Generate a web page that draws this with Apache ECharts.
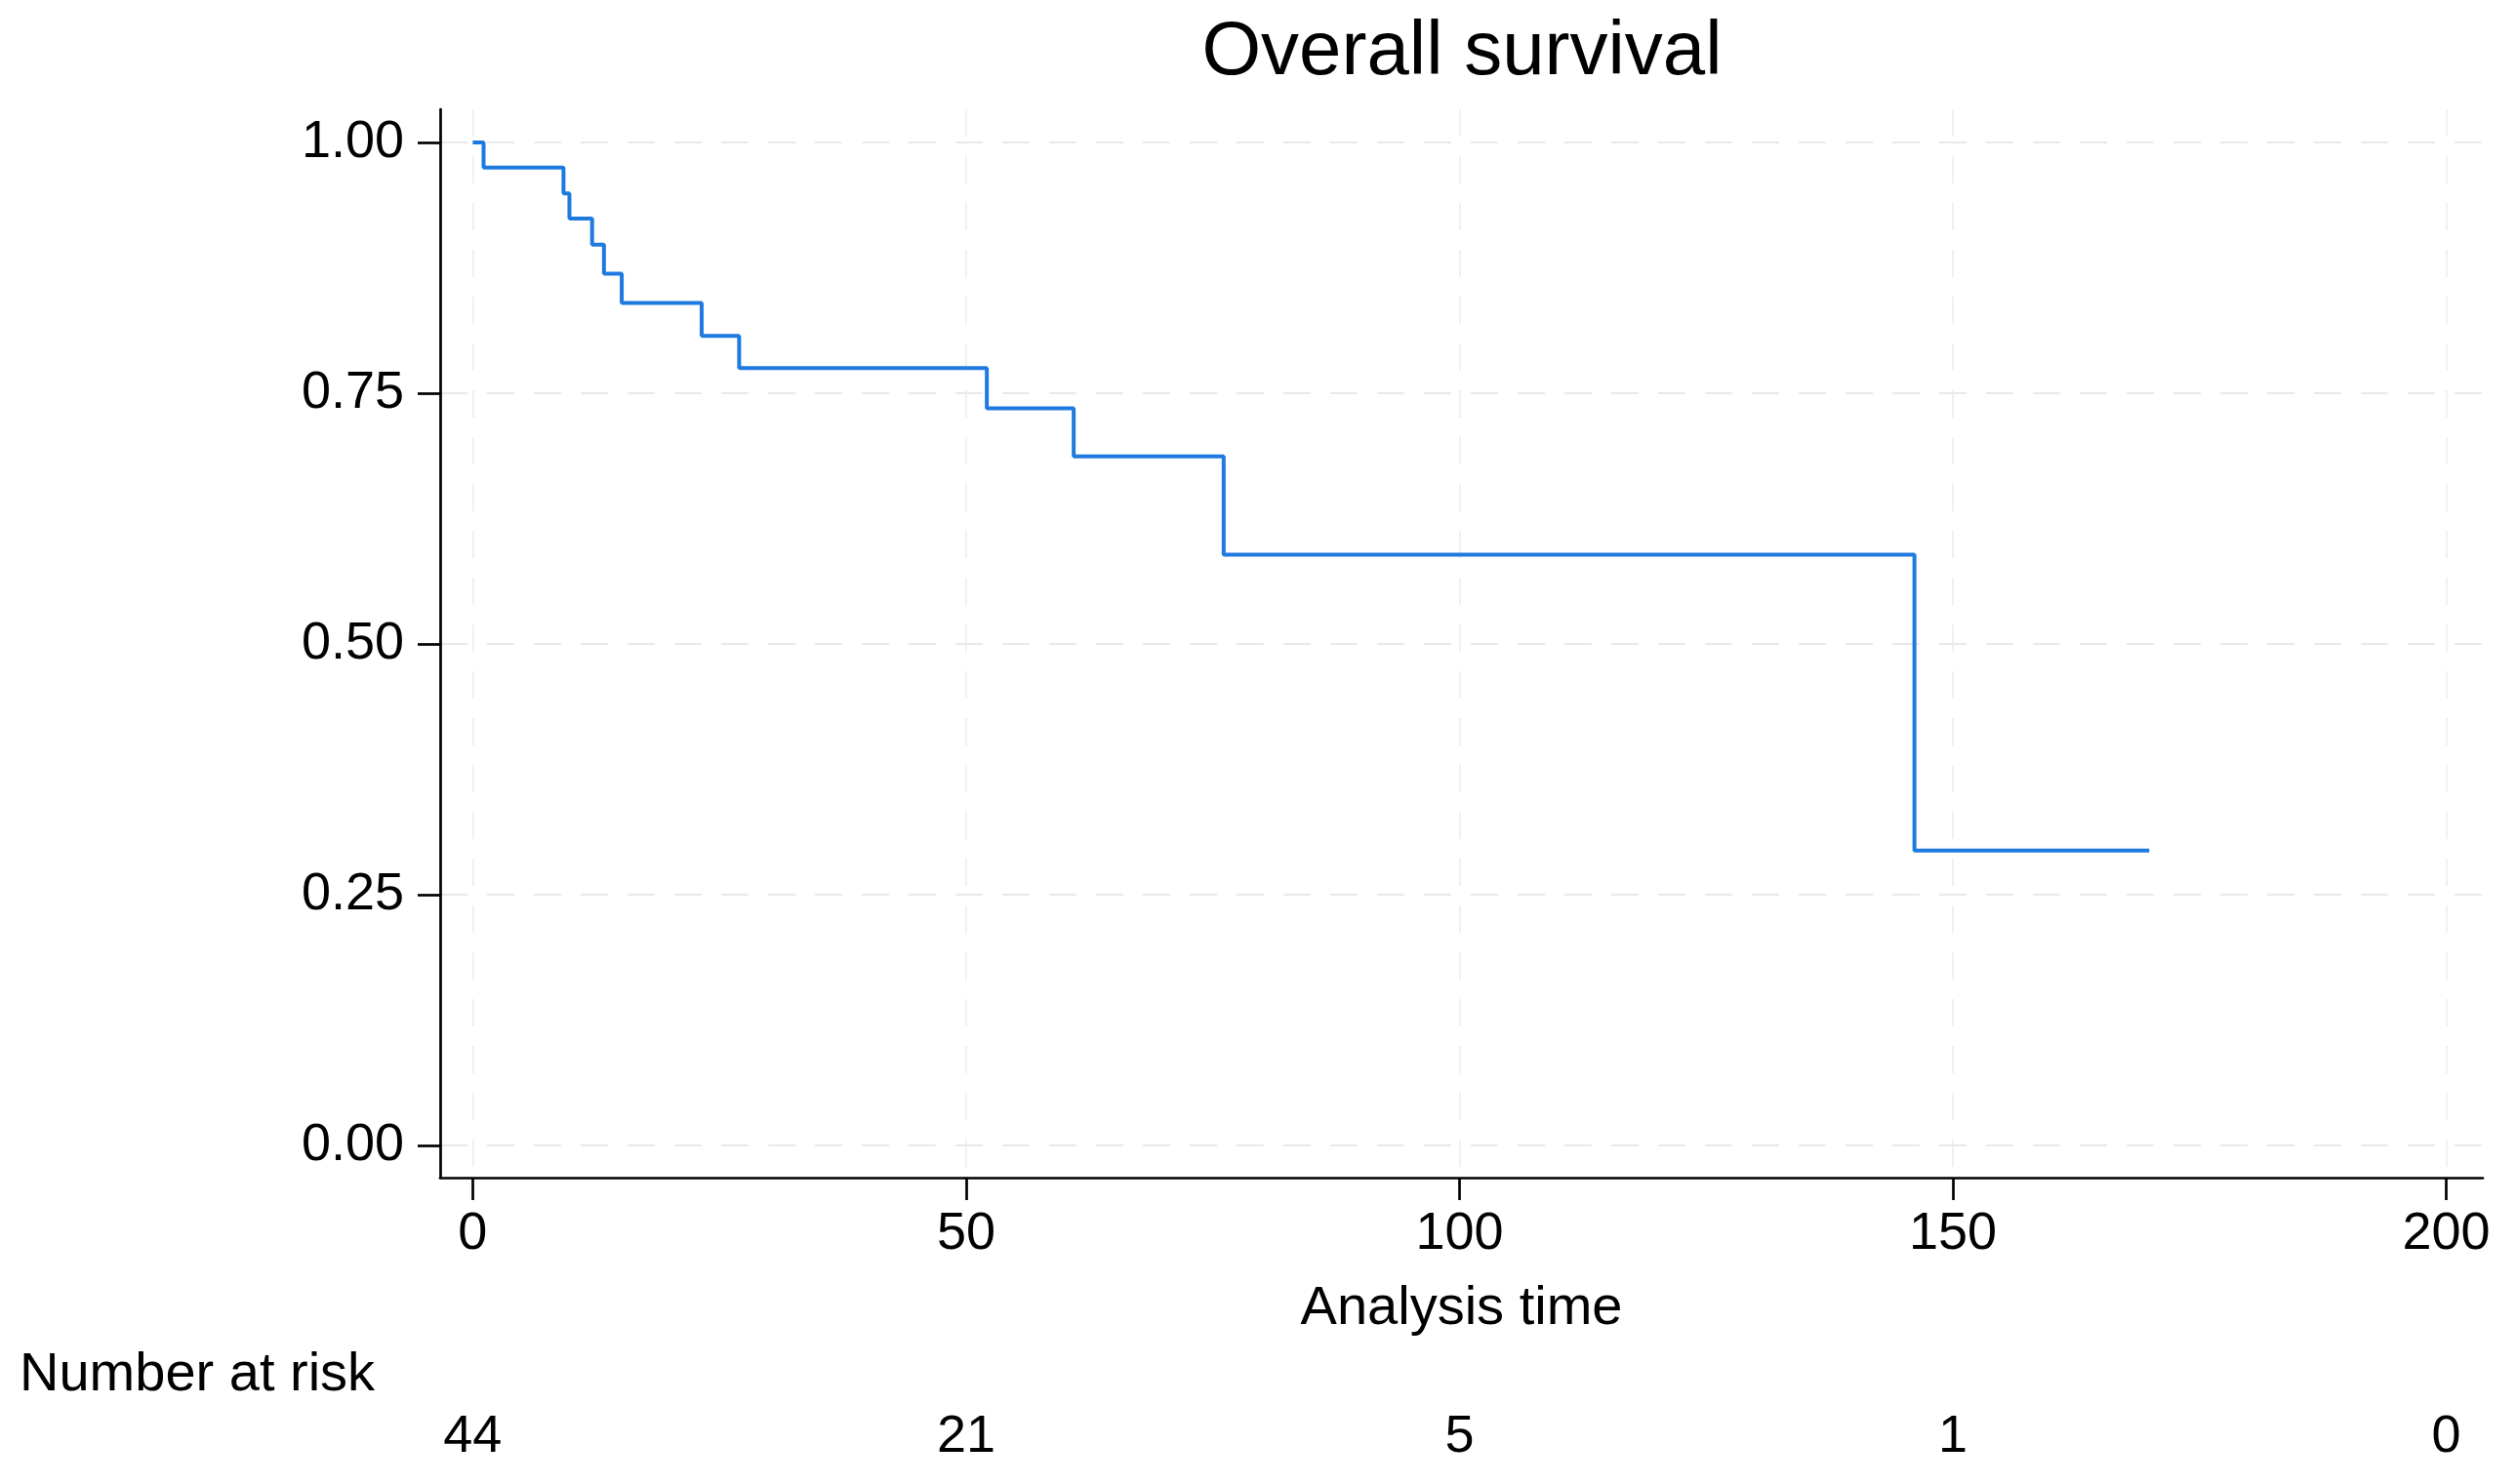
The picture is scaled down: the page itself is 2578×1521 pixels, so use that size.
<!DOCTYPE html>
<html><head><meta charset="utf-8">
<script src="https://cdn.jsdelivr.net/npm/echarts@6/dist/echarts.min.js"></script>
<style>html,body{margin:0;padding:0;background:#fff}#chart{width:2578px;height:1521px}</style>
</head><body><div id="chart"></div>
<script>
// Kaplan-Meier estimate
const timePoints = [0, 1.1, 9.2, 9.8, 12.1, 13.3, 15.1, 23.2, 27.0, 52.1, 60.9, 76.1, 146.1, 169.9];
const survival   = [1.000, 0.975, 0.949, 0.924, 0.898, 0.869, 0.840, 0.807, 0.775, 0.735, 0.687, 0.589, 0.294, 0.294];
const xTicks = [0, 50, 100, 150, 200];
const yTicks = [0, 0.25, 0.5, 0.75, 1];
const riskTimes  = [0, 50, 100, 150, 200];
const riskCounts = [44, 21, 5, 1, 0];

const FONT = "'Liberation Sans', Arial, Helvetica, sans-serif";
const chart = echarts.init(document.getElementById('chart'), null, {renderer: 'canvas'});
const hGrid = {show: true, lineStyle: {color: '#e2e2e2', width: 1.5, type: [28, 20]}};
const vGrid = {show: true, lineStyle: {color: '#ebebeb', width: 1.5, type: [28, 20]}};
const XMIN = -3.3, XMAX = 203.7;

chart.setOption({
  animation: false,
  backgroundColor: '#ffffff',
  title: {
    text: 'Overall survival', left: 1498, top: 15, padding: 0, textAlign: 'center',
    textStyle: {fontSize: 78, fontWeight: 'normal', color: '#000', fontFamily: FONT}
  },
  graphic: [{
    type: 'text', x: 20, y: 1410,
    style: {text: 'Number at risk', fill: '#000', font: '56px ' + FONT, align: 'left', verticalAlign: 'middle'}
  }],
  grid: [
    {left: 451, right: 34, top: 112, height: 1095},
    {left: 451, right: 34, top: 1440, height: 66}
  ],
  xAxis: [{
    type: 'value', gridIndex: 0, min: XMIN, max: XMAX,
    name: 'Analysis time', nameLocation: 'middle', nameGap: 107,
    nameTextStyle: {fontSize: 56, color: '#000', fontFamily: FONT},
    axisLine: {onZero: false, lineStyle: {color: '#000', width: 2.7}},
    axisTick: {show: true, length: 23, customValues: xTicks, lineStyle: {color: '#000', width: 2.7}},
    axisLabel: {customValues: xTicks, fontSize: 54, color: '#000', margin: 31, fontFamily: FONT},
    splitLine: vGrid
  }, {
    type: 'value', gridIndex: 1, min: XMIN, max: XMAX, show: false
  }],
  yAxis: [{
    type: 'value', gridIndex: 0, min: -0.032, max: 1.033,
    axisLine: {show: true, onZero: false, lineStyle: {color: '#000', width: 2.7}},
    axisTick: {show: true, length: 23, customValues: yTicks, lineStyle: {color: '#000', width: 2.7}},
    axisLabel: {customValues: yTicks, fontSize: 54, color: '#000', margin: 37, fontFamily: FONT,
      formatter: v => Number(v).toFixed(2)},
    splitLine: hGrid
  }, {
    type: 'value', gridIndex: 1, min: 0, max: 1, show: false
  }],
  series: [{
    type: 'line', xAxisIndex: 0, yAxisIndex: 0, step: 'end', showSymbol: false, symbol: 'none',
    data: timePoints.map((t, i) => [t, survival[i]]),
    lineStyle: {color: '#1f7ae0', width: 4}, z: 3, silent: true
  }, {
    type: 'scatter', xAxisIndex: 1, yAxisIndex: 1, symbolSize: 0, silent: true,
    itemStyle: {color: '#000', opacity: 1},
    data: riskTimes.map((t, i) => [t, 0.5, riskCounts[i]]),
    label: {show: true, position: 'inside', formatter: p => String(p.value[2]),
      fontSize: 54, color: '#000', opacity: 1, textBorderWidth: 0, fontFamily: FONT}
  }]
});
</script></body></html>
